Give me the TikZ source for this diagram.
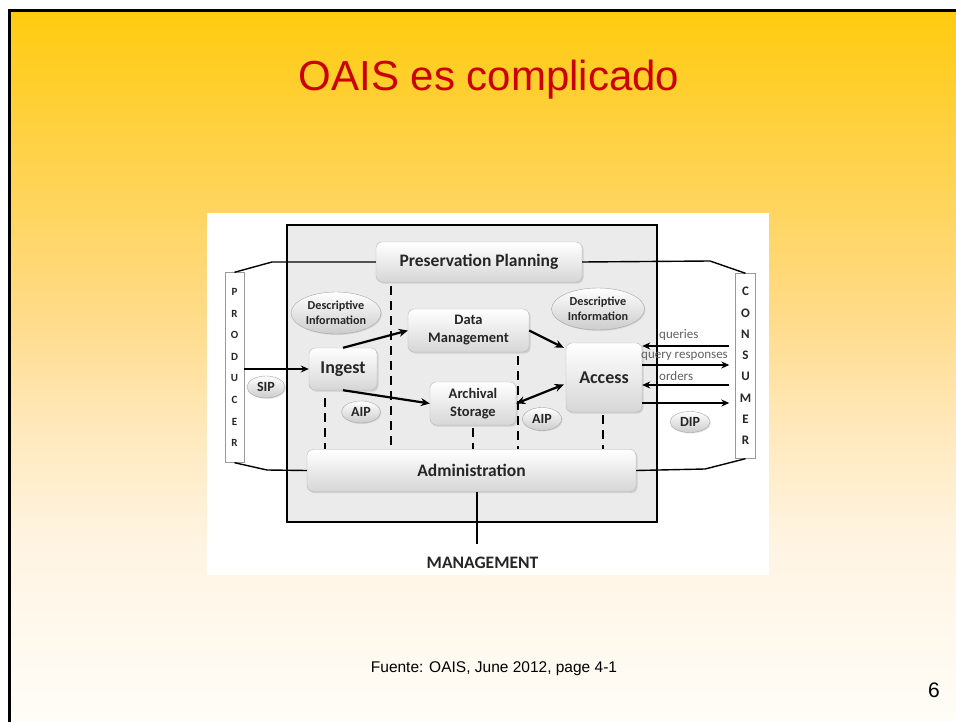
\documentclass[tikz,border=0pt]{standalone}
\usepackage{fontspec}
\setmainfont{Liberation Sans}
\newfontfamily\carlito{Carlito}
\usetikzlibrary{shadows,arrows.meta,calc,shapes.geometric}
\definecolor{titlered}{HTML}{CC0000}
\definecolor{bgA}{HTML}{FFCB0F}
\definecolor{bgB}{HTML}{FFD24A}
\definecolor{bgC}{HTML}{FFDA82}
\definecolor{bgD}{HTML}{FFE7B8}
\definecolor{bgE}{HTML}{FFF4E2}
\definecolor{bgF}{HTML}{FFFDF8}
\definecolor{boxtext}{HTML}{262626}
\pgfdeclareverticalshading{slidebg}{100bp}{color(0bp)=(bgF); color(25bp)=(bgF); color(37.8bp)=(bgE); color(46.25bp)=(bgD); color(54.7bp)=(bgC); color(65bp)=(bgB); color(75bp)=(bgA); color(100bp)=(bgA)}
\tikzset{
  pbox/.style={rounded corners=6pt, draw=black!28, top color=white, bottom color=black!16,
    drop shadow={shadow xshift=1.5pt, shadow yshift=-1.5pt, opacity=0.25},
    inner sep=0pt, align=center, text=boxtext, font=\carlito\bfseries},
  pell/.style={ellipse, draw=black!35, top color=white, bottom color=black!20,
    drop shadow={shadow xshift=1pt, shadow yshift=-1pt, opacity=0.2},
    inner sep=0pt, align=center, text=boxtext, font=\carlito\bfseries},
  bar/.style={draw=black!40, fill=white, inner sep=0pt, align=center, text=boxtext},
  arr/.style={-{Stealth[length=9pt,width=8pt]}, line width=2.2pt, black},
  carr/.style={-{Stealth[length=8pt,width=7pt]}, line width=1.8pt, black},
  conn/.style={line width=1.4pt, black},
  dashline/.style={line width=2.6pt, black, dash pattern=on 9pt off 6pt},
  lbl/.style={anchor=west, inner sep=0pt, text=black!62, font=\carlito\fontsize{13}{15}\selectfont}
}
\begin{document}
\begin{tikzpicture}[x=1pt,y=-1pt]
\useasboundingbox (0,0) rectangle (956,722);
\fill[white] (0,0) rectangle (956,722);
\shade[shading=slidebg] (8,11) rectangle (956,722);
\draw[line width=3pt, black, line join=miter] (9,722) -- (9,11) -- (956,11);

% title and footer
\node[text=titlered, font=\fontsize{42}{50}\selectfont, inner sep=0pt] (title) at (489,80) {OAIS es complicado};
\node[font=\fontsize{15.5}{18}\selectfont, inner sep=0pt] (src) at (494,669) {Fuente: OAIS, June 2012, page 4-1};
\node[font=\fontsize{21}{24}\selectfont, inner sep=0pt] (pnum) at (934,690) {6};

% diagram picture
\fill[white] (207,213) rectangle (769,575);
\node[draw=black, line width=1.2pt, fill=black!8, minimum width=370pt, minimum height=297pt, inner sep=0pt] (sys) at (472,373.5) {};

% side bars
\node[bar, minimum width=19pt, minimum height=190pt, font=\carlito\bfseries\fontsize{11}{21.6}\selectfont] (producer) at (234.5,367.5) {P\\R\\O\\D\\U\\C\\E\\R};
\node[bar, minimum width=20pt, minimum height=185pt, font=\carlito\bfseries\fontsize{13}{21.3}\selectfont] (consumer) at (745.5,366) {C\\O\\N\\S\\U\\M\\E\\R};

% functional boxes
\node[pbox, minimum width=206pt, minimum height=40pt, font=\carlito\bfseries\fontsize{17.5}{20}\selectfont] (pp) at (479,262) {Preservation Planning};
\node[pbox, minimum width=121pt, minimum height=43pt, font=\carlito\bfseries\fontsize{14.5}{18}\selectfont] (dm) at (468.5,330.5) {Data\\Management};
\node[pbox, minimum width=68pt, minimum height=42pt, font=\carlito\bfseries\fontsize{18}{20}\selectfont] (ingest) at (343,369) {Ingest};
\node[pbox, minimum width=86pt, minimum height=43pt, font=\carlito\bfseries\fontsize{14.5}{18}\selectfont] (as) at (473,403.5) {Archival\\Storage};
\node[pbox, minimum width=76pt, minimum height=69pt, font=\carlito\bfseries\fontsize{18}{20}\selectfont] (access) at (604,377.5) {Access};
\node[pbox, minimum width=329pt, minimum height=42pt, font=\carlito\bfseries\fontsize{17.5}{20}\selectfont] (admin) at (471.5,470.5) {Administration};

% ellipses
\node[pell, minimum width=90pt, minimum height=42pt, font=\carlito\bfseries\fontsize{12.2}{14.5}\selectfont] (di1) at (336,313) {Descriptive\\Information};
\node[pell, minimum width=93pt, minimum height=42pt, font=\carlito\bfseries\fontsize{12.2}{14.5}\selectfont] (di2) at (598,309) {Descriptive\\Information};
\node[pell, minimum width=38pt, minimum height=22pt, font=\carlito\bfseries\fontsize{14}{16}\selectfont] (sip) at (266,387) {SIP};
\node[pell, minimum width=39pt, minimum height=22pt, font=\carlito\bfseries\fontsize{14}{16}\selectfont] (aip1) at (361,412) {AIP};
\node[pell, minimum width=39pt, minimum height=23pt, font=\carlito\bfseries\fontsize{14}{16}\selectfont] (aip2) at (542,419) {AIP};
\node[pell, minimum width=40pt, minimum height=21pt, font=\carlito\bfseries\fontsize{14}{16}\selectfont] (dip) at (690,422) {DIP};

% connections of planning and administration to the side bars
\draw[conn] (pp.west) -- (272,262) -- (producer.north);
\draw[conn] (pp.east) -- (710,261) -- (consumer.north);
\draw[conn] (admin.west) -- (267,470) -- (producer.south);
\draw[conn] (admin.east) -- (705,469) -- (consumer.south);

% management
\node[font=\carlito\bfseries\fontsize{17.5}{20}\selectfont, text=boxtext, inner sep=0pt] (mgmt) at (482.5,563) {MANAGEMENT};
\coordinate (mtop) at (477,544);
\draw[conn] (admin.south -| mtop) -- (mtop);

% dashed links to administration
\coordinate (dx1) at (391,0);
\coordinate (dx2) at (325,0);
\coordinate (dx3) at (518,0);
\coordinate (dx4) at (603,0);
\draw[dashline] ($(dx1 |- pp.south)+(0,4)$) -- (dx1 |- admin.north);
\draw[dashline] ($(dx2 |- ingest.south)+(0,8)$) -- (dx2 |- admin.north);
\draw[dashline] ($(dx3 |- dm.south)+(0,4)$) -- (dx3 |- admin.north);
\draw[dashline] ($(as.south)+(0,3)$) -- (as.south |- admin.north);
\draw[dashline] ($(dx4 |- access.south)+(0,3)$) -- (dx4 |- admin.north);

% internal flows
\draw[carr] (producer.east |- ingest.west) -- (ingest.west);
\draw[arr] (ingest.north) -- (dm.west);
\draw[arr] (ingest.south) -- (as.west);
\draw[arr] (dm.east) -- ($(access.north west)+(-2,5)$);
\draw[arr, {Stealth[length=9pt,width=8pt]}-{Stealth[length=9pt,width=8pt]}] (as.east) -- ($(access.west)+(-2,7)$);

% consumer flows
\coordinate (qy) at (700,346);
\coordinate (ry) at (700,365);
\coordinate (oy) at (700,385);
\coordinate (dy) at (700,403);
\draw[carr, shorten <=6pt] (consumer.west |- qy) -- (access.east |- qy);
\draw[carr, shorten >=6pt] (access.east |- ry) -- (consumer.west |- ry);
\draw[carr, shorten <=6pt] (consumer.west |- oy) -- (access.east |- oy);
\draw[carr, shorten >=6pt] (access.east |- dy) -- (consumer.west |- dy);
\node[lbl] (lq) at (659,335) {queries};
\node[lbl] (lr) at (641,356) {query responses};
\node[lbl] (lo) at (659,376) {orders};
\end{tikzpicture}
\end{document}
